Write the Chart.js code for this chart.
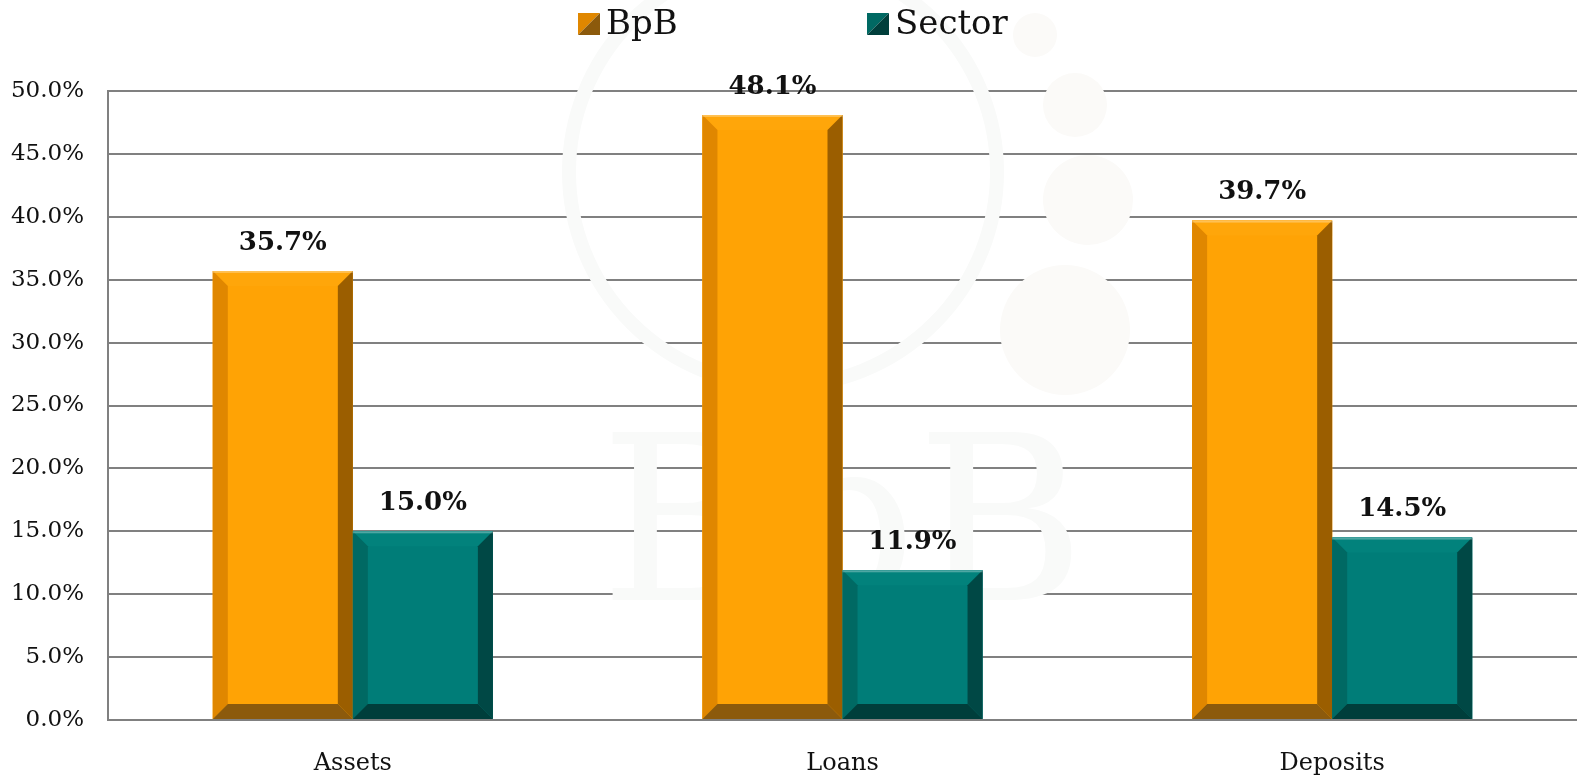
<!DOCTYPE html>
<html>
<head>
<meta charset="utf-8">
<script src="https://cdn.jsdelivr.net/npm/chart.js@4"></script>
<style>
  html, body { margin: 0; padding: 0; background: #fff; overflow: hidden; }
  canvas { display: block; }
</style>
</head>
<body>
<canvas id="growthChart" width="1577" height="775" style="width:1577px;height:775px"></canvas>
<script>
// --- data ---
const CATEGORIES = ['Assets', 'Loans', 'Deposits'];
const SERIES_NAMES = ['BpB', 'Sector'];
const BPB_VALUES = [35.7, 48.1, 39.7];
const SECTOR_VALUES = [15.0, 11.9, 14.5];
const Y_MIN = 0, Y_MAX = 50, Y_STEP = 5;

const FONT = '"DejaVu Serif", "Liberation Serif", serif';

// face / left / right / bottom / top shades for the bevelled bars
const SHADES = [
    { face: '#FFA305', left: '#E08700', right: '#9B5E00', bottom: '#8C5A0C', top: '#FFA60A' },
    { face: '#007D78', left: '#006963', right: '#004845', bottom: '#003E3B', top: '#02827C' }
];

// faint logo watermark behind the plot
const watermark = {
    id: 'watermark',
    beforeDatasetsDraw(chart) {
        const ctx = chart.ctx;
        ctx.save();
        ctx.strokeStyle = '#f9faf9';
        ctx.lineWidth = 14;
        ctx.beginPath(); ctx.arc(783, 172, 214, 0, Math.PI * 2); ctx.stroke();
        ctx.fillStyle = '#fbfaf8';
        [[1035, 35, 22], [1075, 105, 32], [1088, 200, 45], [1065, 330, 65]].forEach(([x, y, r]) => {
            ctx.beginPath(); ctx.arc(x, y, r, 0, Math.PI * 2); ctx.fill();
        });
        ctx.fillStyle = '#f9faf9';
        ctx.font = '230px ' + FONT;
        ctx.textBaseline = 'alphabetic';
        ctx.fillText('BpB', 600, 600);
        ctx.restore();
    }
};

// legend: pyramid swatch + name, drawn above the plot
const topLegend = {
    id: 'topLegend',
    afterDraw(chart) {
        const ctx = chart.ctx;
        const spots = [578, 867];
        ctx.save();
        ctx.font = '34px ' + FONT;
        ctx.textBaseline = 'middle';
        ctx.textAlign = 'left';
        chart.data.datasets.forEach((ds, di) => {
            const s = SHADES[di];
            const x = spots[di], y = 13, w = 22;
            ctx.fillStyle = s.left;
            ctx.beginPath(); ctx.moveTo(x, y); ctx.lineTo(x + w, y); ctx.lineTo(x, y + w); ctx.closePath(); ctx.fill();
            ctx.fillStyle = s.bottom;
            ctx.beginPath(); ctx.moveTo(x + w, y); ctx.lineTo(x + w, y + w); ctx.lineTo(x, y + w); ctx.closePath(); ctx.fill();
            ctx.fillStyle = '#111';
            ctx.fillText(ds.label, x + w + 6, y + w / 2 + 1);
        });
        ctx.restore();
    }
};

// draws the bevel faces over each bar and the value labels
const bevelBars = {
    id: 'bevelBars',
    afterDatasetsDraw(chart) {
        const ctx = chart.ctx;
        chart.data.datasets.forEach((ds, di) => {
            const s = SHADES[di];
            chart.getDatasetMeta(di).data.forEach((bar, i) => {
                const l = bar.x - bar.width / 2, r = bar.x + bar.width / 2;
                const t = bar.y, b = bar.base;
                const e = Math.min(15, (b - t) / 2);
                const poly = (col, pts) => {
                    ctx.fillStyle = col;
                    ctx.beginPath();
                    ctx.moveTo(pts[0][0], pts[0][1]);
                    pts.slice(1).forEach(p => ctx.lineTo(p[0], p[1]));
                    ctx.closePath(); ctx.fill();
                };
                poly(s.face, [[l, t], [r, t], [r, b], [l, b]]);
                poly(s.top, [[l, t], [r, t], [r - e, t + e], [l + e, t + e]]);
                poly(s.left, [[l, t], [l + e, t + e], [l + e, b - e], [l, b]]);
                poly(s.right, [[r, t], [r, b], [r - e, b - e], [r - e, t + e]]);
                poly(s.bottom, [[l, b], [l + e, b - e], [r - e, b - e], [r, b]]);
                ctx.fillStyle = 'rgba(255,255,255,0.3)';
                ctx.fillRect(l, t, r - l, 2);

                ctx.fillStyle = '#111';
                ctx.font = 'bold 26px ' + FONT;
                ctx.textAlign = 'center';
                ctx.textBaseline = 'middle';
                ctx.fillText(ds.data[i].toFixed(1) + '%', bar.x, t - 28);
            });
        });
    }
};

new Chart(document.getElementById('growthChart'), {
    type: 'bar',
    data: {
        labels: CATEGORIES,
        datasets: [
            { label: SERIES_NAMES[0], data: BPB_VALUES, backgroundColor: SHADES[0].face },
            { label: SERIES_NAMES[1], data: SECTOR_VALUES, backgroundColor: SHADES[1].face }
        ]
    },
    options: {
        responsive: false,
        animation: false,
        layout: { padding: { top: 91, right: 0, left: 0, bottom: 0 } },
        datasets: { bar: { barPercentage: 1.0, categoryPercentage: 0.572 } },
        plugins: {
            tooltip: { enabled: false },
            legend: { display: false }
        },
        scales: {
            x: {
                afterFit(scale) { scale.height = 55; },
                grid: { display: false },
                border: { display: true, color: '#808080', width: 2 },
                ticks: { font: { family: FONT, size: 24 }, color: '#111', padding: 21 }
            },
            y: {
                min: Y_MIN, max: Y_MAX,
                afterFit(scale) { scale.width = 108; },
                ticks: {
                    stepSize: Y_STEP,
                    font: { family: FONT, size: 23 },
                    color: '#111',
                    padding: 24,
                    callback: v => v.toFixed(1) + '%'
                },
                grid: { color: '#808080', lineWidth: 2, drawTicks: false },
                border: { display: true, color: '#808080', width: 2 }
            }
        }
    },
    plugins: [watermark, bevelBars, topLegend]
});
</script>
</body>
</html>
